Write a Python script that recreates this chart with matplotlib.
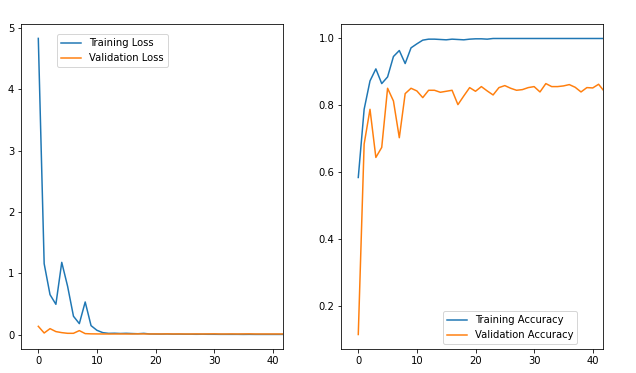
import numpy as np
import matplotlib
matplotlib.use("Agg")
import matplotlib.pyplot as plt

# Values; the last epoch is clipped by the x-limit
epochs = np.arange(43)

train_acc = [0.584, 0.788, 0.873, 0.909, 0.865, 0.885, 0.946, 0.964, 0.925, 0.972,
             0.984, 0.995, 0.998, 0.998, 0.997, 0.996, 0.998, 0.997, 0.996, 0.998,
             0.999, 0.999, 0.998, 1.0, 1.0, 1.0, 1.0, 1.0, 1.0, 1.0,
             1.0, 1.0, 1.0, 1.0, 1.0, 1.0, 1.0, 1.0, 1.0, 1.0,
             1.0, 1.0, 1.0]
val_acc = [0.114, 0.684, 0.788, 0.644, 0.674, 0.851, 0.813, 0.703, 0.835, 0.851,
           0.843, 0.823, 0.845, 0.845, 0.839, 0.842, 0.845, 0.802, 0.828, 0.853,
           0.842, 0.856, 0.843, 0.831, 0.853, 0.859, 0.851, 0.845, 0.847, 0.853,
           0.856, 0.840, 0.865, 0.856, 0.856, 0.858, 0.862, 0.854, 0.840, 0.853,
           0.852, 0.863, 0.841]

train_loss = [4.83, 1.156, 0.651, 0.494, 1.178, 0.787, 0.299, 0.179, 0.532, 0.146,
              0.070, 0.032, 0.020, 0.022, 0.018, 0.021, 0.017, 0.014, 0.020, 0.010,
              0.009, 0.008, 0.010, 0.007, 0.008, 0.006, 0.006, 0.005, 0.006, 0.005,
              0.005, 0.004, 0.004, 0.004, 0.004, 0.003, 0.004, 0.003, 0.003, 0.003,
              0.003, 0.003, 0.003]
val_loss = [0.135, 0.026, 0.097, 0.049, 0.032, 0.021, 0.021, 0.065, 0.016, 0.012,
            0.011, 0.010, 0.010, 0.010, 0.011, 0.010, 0.010, 0.012, 0.011, 0.010,
            0.011, 0.010, 0.012, 0.010, 0.011, 0.010, 0.010, 0.011, 0.010, 0.011,
            0.012, 0.010, 0.010, 0.011, 0.010, 0.011, 0.012, 0.010, 0.010, 0.010,
            0.010, 0.010, 0.010]

fig = plt.figure(figsize=(636 / 72, 373 / 72), dpi=72)

ax1 = fig.add_axes([0.0335, 0.0635, 0.4115, 0.873])
ax1.plot(epochs, train_loss, label="Training Loss")
ax1.plot(epochs, val_loss, label="Validation Loss")
ax1.set_xlim(-2.9, 41.75)
ax1.set_ylim(-0.24, 5.07)
ax1.legend(loc="upper left", bbox_to_anchor=(0.1376, 0.9674), borderaxespad=0)

ax2 = fig.add_axes([0.5366, 0.0635, 0.4115, 0.873])
ax2.plot(epochs, train_acc, label="Training Accuracy")
ax2.plot(epochs, val_acc, label="Validation Accuracy")
ax2.set_xlim(-2.9, 41.75)
ax2.set_ylim(0.0697, 1.0443)
ax2.legend(loc="lower right", bbox_to_anchor=(0.9018, 0.0154), borderaxespad=0)

fig.savefig("out.png", dpi=72)
